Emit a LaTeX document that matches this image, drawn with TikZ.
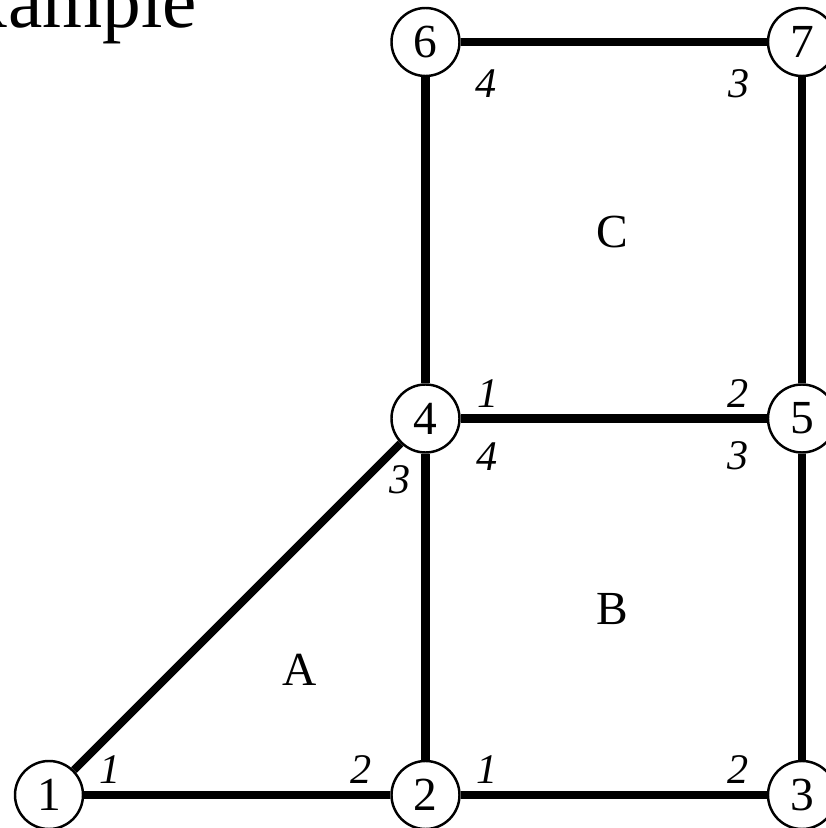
\documentclass[tikz,border=0pt]{standalone}
\usepackage{fontspec}
\setmainfont{Liberation Serif}
\usetikzlibrary{positioning,calc}

\begin{document}
\begin{tikzpicture}[
  vert/.style={draw, circle, line width=1.4pt, minimum size=1.36cm, inner sep=0pt, font=\fontsize{27}{31}\selectfont},
  lab/.style={inner sep=0pt, font=\fontsize{24}{28}\selectfont\itshape},
  elem/.style={inner sep=0pt, font=\fontsize{27}{32}\selectfont},
  side/.style={line width=4.6pt},
  node distance=7.53cm, on grid
]
  \useasboundingbox (0,0) rectangle (16.52,16.56);

  \node[anchor=base west, inner sep=0pt, font=\fontsize{44}{50}\selectfont] (title) at (-1.56,16.0) {Example};

  \node[vert] at (0.98,0.66) (n1) {1};
  \node[vert, right=of n1] (n2) {2};
  \node[vert, right=of n2] (n3) {3};
  \node[vert, above=of n2] (n4) {4};
  \node[vert, above=of n3] (n5) {5};
  \node[vert, above=of n4] (n6) {6};
  \node[vert, above=of n5] (n7) {7};

  \draw[side] (n1) -- (n2);
  \draw[side] (n2) -- (n3);
  \draw[side] (n1) -- (n4);
  \draw[side] (n2) -- (n4);
  \draw[side] (n3) -- (n5);
  \draw[side] (n4) -- (n5);
  \draw[side] (n4) -- (n6);
  \draw[side] (n5) -- (n7);
  \draw[side] (n6) -- (n7);

  % local numbering
  \node[lab] (a1) at ($(n1)+(1.22,0.50)$) {1};
  \node[lab] (a2) at ($(n2)+(-1.28,0.50)$) {2};
  \node[lab] (a3) at ($(n4)+(-0.50,-1.22)$) {3};
  \node[lab] (b1) at ($(n2)+(1.24,0.50)$) {1};
  \node[lab] (b2) at ($(n3)+(-1.28,0.50)$) {2};
  \node[lab] (b3) at ($(n5)+(-1.28,-0.74)$) {3};
  \node[lab] (b4) at ($(n4)+(1.24,-0.76)$) {4};
  \node[lab] (c1) at ($(n4)+(1.26,0.50)$) {1};
  \node[lab] (c2) at ($(n5)+(-1.28,0.50)$) {2};
  \node[lab] (c3) at ($(n7)+(-1.26,-0.84)$) {3};
  \node[lab] (c4) at ($(n6)+(1.22,-0.84)$) {4};

  \node[elem] (elA) at (6.00,3.16) {A};
  \node[elem] (elB) at (12.24,4.38) {B};
  \node[elem] (elC) at (12.24,11.92) {C};
\end{tikzpicture}
\end{document}
